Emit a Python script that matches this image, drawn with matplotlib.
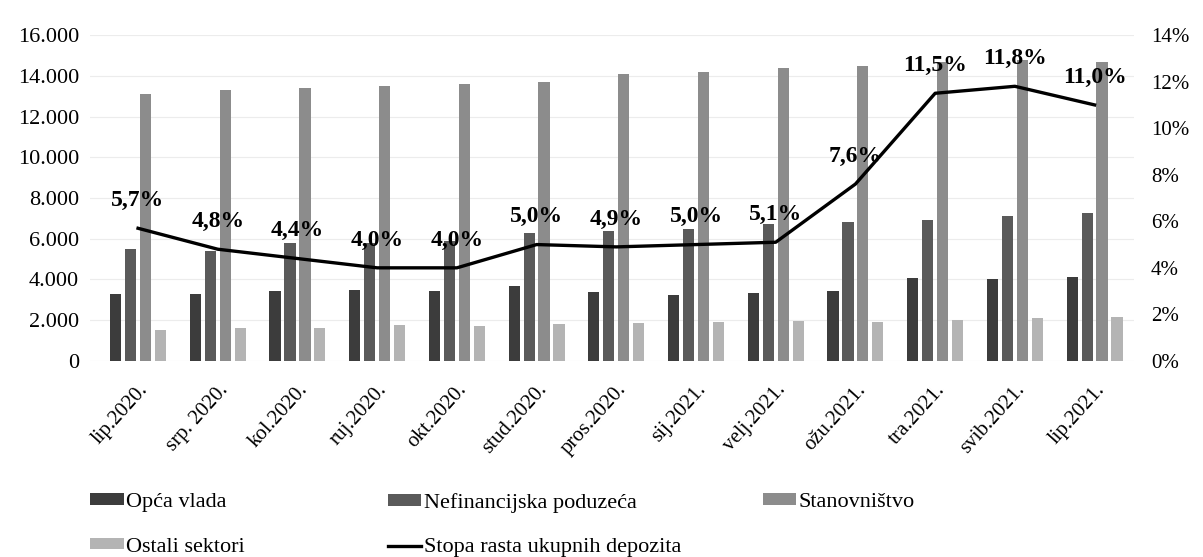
import matplotlib.pyplot as plt
import numpy as np

plt.rcParams['font.family'] = ['Liberation Serif', 'DejaVu Serif']

months = ['lip.2020.', 'srp. 2020.', 'kol.2020.', 'ruj.2020.', 'okt.2020.',
          'stud.2020.', 'pros.2020.', 'sij.2021.', 'velj.2021.', 'ožu.2021.',
          'tra.2021.', 'svib.2021.', 'lip.2021.']

opca_vlada = [3300, 3300, 3450, 3500, 3450, 3700, 3400, 3250, 3350, 3450, 4050, 4000, 4100]
nefinancijska = [5500, 5400, 5800, 5800, 5900, 6300, 6400, 6500, 6700, 6800, 6900, 7100, 7250]
stanovnistvo = [13100, 13300, 13400, 13500, 13600, 13700, 14100, 14200, 14400, 14500, 14700, 14800, 14700]
ostali = [1500, 1600, 1600, 1750, 1700, 1800, 1850, 1900, 1950, 1900, 2000, 2100, 2150]
stopa = [5.7, 4.8, 4.4, 4.0, 4.0, 5.0, 4.9, 5.0, 5.1, 7.6, 11.5, 11.8, 11.0]

fig = plt.figure(figsize=(12.03, 5.57), dpi=100)
ax = fig.add_axes([0.075, 0.352, 0.868, 0.585])
ax2 = ax.twinx()

x = np.arange(len(months))
w = 0.14
step = 0.1875
b1 = ax.bar(x - 1.5 * step, opca_vlada, w, color='#3c3c3c', zorder=2)
b2 = ax.bar(x - 0.5 * step, nefinancijska, w, color='#5a5a5a', zorder=2)
b3 = ax.bar(x + 0.5 * step, stanovnistvo, w, color='#8c8c8c', zorder=2)
b4 = ax.bar(x + 1.5 * step, ostali, w, color='#b4b4b4', zorder=2)

ax.set_ylim(0, 16000)
ax.set_yticks(range(0, 16001, 2000))
ax.set_yticklabels(['0'] + [f'{v // 1000}.000' for v in range(2000, 16001, 2000)])
ax.set_xlim(-0.6, 12.5)
ax.set_xticks(x)
ax.set_xticklabels(months, rotation=48, ha='right', rotation_mode='anchor')
ax.grid(axis='y', color='#ececec', linewidth=0.8, zorder=0)
ax.tick_params(length=0, labelsize=16, pad=8)
ax.tick_params(axis='x', labelsize=15, pad=14)

ln, = ax2.plot(x, stopa, color='black', linewidth=2.4, zorder=3)
ax2.set_ylim(0, 14)
ax2.set_yticks(range(0, 15, 2))
ax2.set_yticklabels([f'{v}%' for v in range(0, 15, 2)])
ax2.tick_params(length=0, labelsize=15, pad=12)
for xi, v in zip(x, stopa):
    ax2.annotate(f'{v:.1f}%'.replace('.', ','), (xi, v), xytext=(0, 20),
                 textcoords='offset points', ha='center', va='center',
                 fontsize=17, fontweight='bold')

for a in (ax, ax2):
    for s in a.spines.values():
        s.set_visible(False)

# legend as three separate columns to match the spacing of the original
columns = [
    ([b1, b4], ['Opća vlada', 'Ostali sektori'], 0.075),
    ([b2, ln], ['Nefinancijska poduzeća', 'Stopa rasta ukupnih depozita'], 0.3225),
    ([b3], ['Stanovništvo'], 0.634),
]
for hs, ls, xpos in columns:
    fig.legend(hs, ls, loc='upper left', bbox_to_anchor=(xpos, 0.115),
               frameon=False, prop={'family': 'Liberation Serif', 'size': 16},
               handlelength=1.5, handleheight=0.4, handletextpad=0.1,
               labelspacing=1.15, borderpad=0, borderaxespad=0)

fig.savefig('out.png', dpi=100)
